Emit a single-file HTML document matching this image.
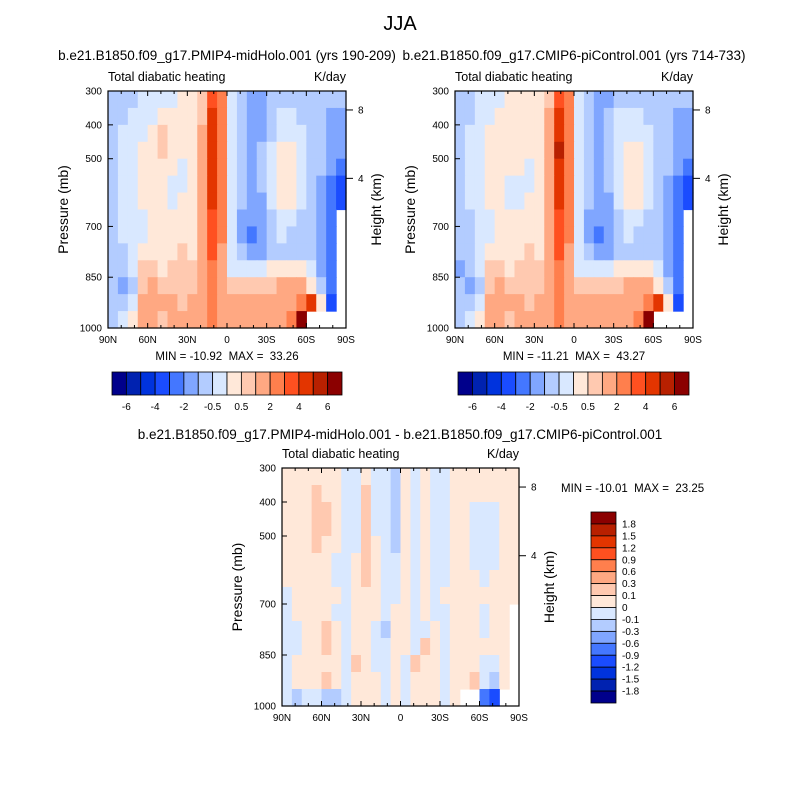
<!DOCTYPE html>
<html><head><meta charset="utf-8">
<style>
body{margin:0;background:#fff;}
svg{display:block;font-family:"Liberation Sans",sans-serif;}
svg text{white-space:pre;}
</style></head>
<body>
<svg id="fig" width="800" height="800" viewBox="0 0 800 800" xmlns="http://www.w3.org/2000/svg">
<text x="400" y="30" font-size="20" text-anchor="middle">JJA</text>
</svg>
<script>
// ---------- data ----------
const latLabels = ["90N","60N","30N","0","30S","60S","90S"];
const presTicks = [300,400,500,700,850,1000];
const heightTicks = ["8","4"];
const heightTickP = [356,558];
const levelsTop = [-6,-5,-4,-3,-2,-1,-0.5,0,0.5,1,2,3,4,5,6];
const levelsDiff = [-1.8,-1.5,-1.2,-0.9,-0.6,-0.3,-0.1,0,0.1,0.3,0.6,0.9,1.2,1.5,1.8];
const topCbLabels = ["-6","-4","-2","-0.5","0.5","2","4","6"];
const diffCbLabels = ["1.8","1.5","1.2","0.9","0.6","0.3","0.1","0","-0.1","-0.3","-0.6","-0.9","-1.2","-1.5","-1.8"];
const colors = ["#00008b","#0022b0","#0033dd","#1a4cff","#4477ff","#80a6ff","#b3ccff","#d9e8ff","#ffe8d9","#ffc9b0","#ffa882","#ff7f4d","#ff5020","#e33500","#b82000","#8b0000"];
const rowP = [325,375,425,475,525,575,625,675,725,775,825,875,925,975];
const N=null;
const fieldA = [
[-0.8,-0.8,-0.8,-0.3,-0.3,-0.3,-0.3,0.3,0.3,0.8,3.5,2.5,-0.3,-0.8,-1.5,-1.5,-0.8,-0.8,-0.8,-0.8,-0.8,-0.8,-0.8,-0.8],
[-0.8,-0.8,-0.3,-0.3,-0.3,0.3,0.3,0.3,0.3,0.8,4.5,2.5,-0.3,-0.8,-1.5,-1.5,-0.8,-0.3,-0.3,-0.8,-0.8,-0.8,-1.5,-1.5],
[-0.8,-0.3,-0.3,-0.3,0.3,0.8,0.3,0.3,0.3,1.5,4.5,2.5,-0.3,-0.8,-1.5,-1.5,-0.8,-0.3,-0.3,-0.3,-0.8,-0.8,-1.5,-1.5],
[-0.8,-0.3,-0.3,0.3,0.3,0.8,0.3,0.3,0.3,1.5,4.5,2.5,-0.3,-0.8,-1.5,-0.8,-0.3,0.3,0.3,-0.3,-0.8,-0.8,-1.5,-1.5],
[-0.8,-0.3,-0.3,0.3,0.3,0.3,0.3,-0.3,0.3,1.5,4.5,2.5,-0.3,-0.8,-1.5,-0.8,-0.3,0.3,0.3,-0.3,-0.8,-0.8,-1.5,-2.5],
[-0.8,-0.3,-0.3,0.3,0.3,0.3,-0.3,-0.3,0.3,1.5,4.5,2.5,-0.3,-0.8,-1.5,-0.8,-0.3,0.3,0.3,-0.3,-0.8,-1.5,-2.5,-3.5],
[-0.8,-0.3,-0.3,0.3,0.3,0.3,-0.3,0.3,0.3,1.5,4.5,2.5,-0.3,-0.8,-1.5,-1.5,-0.3,0.3,0.3,-0.3,-0.8,-1.5,-2.5,-3.5],
[-0.8,-0.3,-0.3,-0.3,0.3,0.3,0.3,0.3,0.3,1.5,3.5,2.5,-0.3,-1.5,-1.5,-1.5,-0.8,-0.3,-0.3,-0.8,-0.8,-1.5,-2.5,N],
[-0.8,-0.3,-0.3,-0.3,0.3,0.3,0.3,0.3,0.3,1.5,3.5,2.5,-0.3,-1.5,-2.5,-1.5,-0.8,-0.3,-0.8,-0.8,-0.8,-1.5,-2.5,N],
[-0.8,-0.8,-0.3,0.3,0.3,0.3,0.3,0.8,0.3,1.5,3.5,1.5,-0.3,-0.8,-1.5,-1.5,-0.8,-0.8,-0.8,-0.8,-0.8,-1.5,-2.5,N],
[-0.8,-0.8,-0.3,0.8,0.8,0.3,0.8,0.8,0.8,1.5,2.5,1.5,-0.3,-0.3,-0.3,-0.3,0.3,0.3,0.3,0.3,-0.3,-1.5,-2.5,N],
[-0.8,-1.5,-0.8,0.8,1.5,0.8,0.8,0.8,0.8,1.5,2.5,1.5,0.8,0.8,0.8,0.8,0.8,1.5,1.5,1.5,0.3,-0.8,-2.5,N],
[-0.8,-0.8,-0.3,1.5,1.5,1.5,1.5,0.8,1.5,1.5,2.5,1.5,1.5,1.5,1.5,1.5,1.5,1.5,1.5,2.5,4.5,0.3,-3.5,N],
[-0.8,-0.3,0.3,1.5,1.5,0.8,1.5,1.5,1.5,1.5,2.5,1.5,1.5,1.5,1.5,1.5,1.5,1.5,2.5,7,N,N,N,N]
];
const fieldB = [
[-0.8,-0.8,-0.3,-0.3,-0.3,0.3,0.3,0.3,0.3,0.8,3.5,2.5,-0.3,-0.8,-1.5,-1.5,-0.8,-0.8,-0.8,-0.8,-0.8,-0.8,-0.8,-0.8],
[-0.8,-0.8,-0.3,-0.3,0.3,0.3,0.3,0.3,0.3,1.5,4.5,2.5,-0.3,-0.8,-1.5,-0.8,-0.3,-0.3,-0.3,-0.8,-0.8,-0.8,-1.5,-1.5],
[-0.8,-0.3,-0.3,0.3,0.3,0.3,0.3,0.3,0.3,1.5,4.5,2.5,-0.3,-0.8,-1.5,-0.8,-0.3,-0.3,-0.3,-0.3,-0.8,-0.8,-1.5,-1.5],
[-0.8,-0.3,-0.3,0.3,0.3,0.3,0.3,0.3,0.3,1.5,5.5,2.5,-0.3,-0.8,-1.5,-0.8,-0.3,0.3,0.3,-0.3,-0.8,-0.8,-1.5,-1.5],
[-0.8,-0.3,-0.3,0.3,0.3,0.3,0.3,-0.3,0.3,1.5,4.5,2.5,-0.3,-0.8,-1.5,-0.8,-0.3,0.3,0.3,-0.3,-0.8,-0.8,-1.5,-2.5],
[-0.8,-0.3,-0.3,0.3,0.3,-0.3,-0.3,-0.3,0.3,1.5,4.5,2.5,-0.3,-0.8,-1.5,-0.8,-0.3,0.3,0.3,-0.3,-0.8,-1.5,-2.5,-3.5],
[-0.8,-0.3,-0.3,0.3,0.3,-0.3,-0.3,0.3,0.3,1.5,4.5,2.5,-0.3,-0.8,-1.5,-1.5,-0.3,0.3,0.3,-0.3,-0.8,-1.5,-2.5,-3.5],
[-0.8,-0.8,-0.3,-0.3,0.3,0.3,0.3,0.3,0.3,1.5,3.5,2.5,-0.3,-1.5,-1.5,-1.5,-0.8,-0.3,-0.3,-0.8,-0.8,-1.5,-2.5,N],
[-0.8,-0.8,-0.3,-0.3,0.3,0.3,0.3,0.3,0.3,1.5,3.5,2.5,-0.3,-1.5,-2.5,-1.5,-0.8,-0.3,-0.8,-0.8,-0.8,-1.5,-2.5,N],
[-0.8,-0.8,-0.3,0.3,0.3,0.3,0.3,0.8,0.3,1.5,3.5,1.5,-0.3,-0.8,-1.5,-1.5,-0.8,-0.8,-0.8,-0.8,-0.8,-1.5,-2.5,N],
[-1.5,-0.8,-0.3,0.8,0.8,0.3,0.8,0.8,0.8,1.5,2.5,1.5,-0.3,-0.3,-0.3,-0.3,0.3,0.3,0.3,0.3,-0.3,-1.5,-2.5,N],
[-0.8,-1.5,-0.8,0.8,1.5,0.8,0.8,0.8,0.8,1.5,2.5,1.5,0.8,0.8,0.8,0.8,0.8,1.5,1.5,1.5,0.3,-0.8,-2.5,N],
[-0.8,-0.8,-0.3,1.5,1.5,1.5,1.5,0.8,1.5,1.5,2.5,1.5,1.5,1.5,1.5,1.5,1.5,1.5,1.5,2.5,4.5,0.3,-3.5,N],
[-0.8,-0.3,0.3,1.5,1.5,0.8,1.5,1.5,1.5,1.5,2.5,1.5,1.5,1.5,1.5,1.5,1.5,1.5,2.5,7,N,N,N,N]
];
const fieldD = [
[.05,.05,.05,.05,.05,.05,-.05,-.05,.05,-.05,-.05,-.2,.05,-.05,.05,-.05,-.05,.05,.05,.05,.05,.05,.05,.05],
[.05,.05,.05,.2,.05,.05,-.05,-.05,.2,-.05,-.05,-.2,.05,-.05,.05,-.05,-.05,.05,.05,.05,.05,.05,.05,.05],
[.05,.05,.05,.2,.2,.05,-.05,-.05,.2,-.05,-.05,-.2,.05,-.05,.05,-.05,-.05,.05,.05,-.05,-.05,-.05,.05,.05],
[.05,.05,.05,.2,.2,.05,-.05,-.05,.2,-.05,-.05,-.2,.05,-.05,.05,-.05,-.05,.05,.05,-.05,-.05,-.05,.05,.05],
[.05,.05,.05,.2,.05,.05,-.05,-.05,.2,.05,-.05,-.2,.05,-.05,.05,-.05,-.05,.05,.05,-.05,-.05,-.05,.05,.05],
[.05,.05,.05,.05,.05,-.05,-.05,.05,.2,.05,-.05,-.05,.05,-.05,.05,-.05,-.05,.05,.05,-.05,-.05,-.05,.05,.05],
[.05,.05,.05,.05,.05,-.05,-.05,.05,.2,.05,-.05,-.05,.05,-.05,.05,-.05,-.05,.05,.05,.05,-.05,.05,.05,.05],
[-.05,.05,.05,.05,.05,.05,-.05,.05,.05,.05,-.05,-.05,.05,-.05,.05,-.05,.05,.05,.05,.05,.05,.05,.05,.05],
[-.05,.05,.05,.05,.05,-.05,-.05,.05,.05,.05,-.05,.05,.05,-.05,.05,-.05,-.05,.05,.05,.05,-.05,.05,.05,N],
[-.05,-.05,.05,.05,.2,.05,-.05,.05,.05,-.05,-.2,.05,.05,-.05,-.05,.05,-.05,.05,.05,.05,-.05,.05,.05,N],
[-.05,-.05,.05,.05,.2,.05,-.05,.05,.05,-.05,-.05,.05,.05,-.05,.2,.05,-.05,.05,.05,.05,.05,.05,.05,N],
[-.05,.05,.05,.05,.05,.05,-.05,.2,.05,-.05,-.05,.05,-.05,.2,.05,.05,-.05,.05,.05,.05,-.05,-.05,.05,N],
[-.05,.05,.05,.05,.2,.05,-.05,.05,.05,.05,-.05,.05,-.05,.05,.05,.05,-.05,.05,.05,.2,-.05,-.2,.05,N],
[-.05,-.2,-.05,-.05,-.2,-.2,-.05,.05,.05,.05,-.05,.05,-.05,.05,.05,.05,-.05,.05,N,N,-.7,-1,N,N]
];
// ---------- drawing ----------
const svg=document.getElementById('fig');
const NS="http://www.w3.org/2000/svg";
function mk(tag,attrs,parent){const e=document.createElementNS(NS,tag);for(const k in attrs)e.setAttribute(k,attrs[k]);(parent||svg).appendChild(e);return e;}
function txt(x,y,s,size,anchor,parent){const t=mk('text',{x:x,y:y,'font-size':size,'text-anchor':anchor||'start'},parent);t.textContent=s;return t;}
function cls(v,levels){let i=0;while(i<levels.length&&v>=levels[i])i++;return i;}

function panel(name,x0,y0,w,h,field,levels){
  const g=mk('g',{});
  
  
  const xs=lat=>x0+(90-lat)/180*w;
  const ys=p=>y0+(p-300)/700*h;
  const nc=field[0].length, nr=field.length;
  for(let r=0;r<nr;r++){for(let c=0;c<nc;c++){
    const v=field[r][c]; if(v===null) continue;
    const latA=90-c*180/nc, latB=90-(c+1)*180/nc;
    const pA=rowP[r]-25, pB=rowP[r]+25;
    const rc=mk('rect',{x:xs(latA),y:ys(pA),width:xs(latB)-xs(latA)+0.6,height:ys(pB)-ys(pA)+0.6,fill:colors[cls(v,levels)]},g);
    
    
  }}
  const fr=mk('rect',{x:x0,y:y0,width:w,height:h,fill:'none',stroke:'#000','stroke-width':1.2},g);
  
  
  for(let lat=90;lat>=-90;lat-=10){
    const x=xs(lat), L=(lat%30===0)?5:3;
    mk('line',{x1:x,y1:y0+h,x2:x,y2:y0+h-L,stroke:'#000','stroke-width':1},g);
    mk('line',{x1:x,y1:y0,x2:x,y2:y0+L,stroke:'#000','stroke-width':1},g);
  }
  latLabels.forEach((s,i)=>{const t=txt(xs(90-i*30),y0+h+15,s,10,'middle',g);
    
    });
  presTicks.forEach(p=>{
    mk('line',{x1:x0,y1:ys(p),x2:x0+5,y2:ys(p),stroke:'#000','stroke-width':1},g);
    const t=txt(x0-6,ys(p)+3.5,String(p),10,'end',g);
    
    
  });
  heightTicks.forEach((s,i)=>{
    const y=ys(heightTickP[i]);
    mk('line',{x1:x0+w,y1:y,x2:x0+w+7,y2:y,stroke:'#000','stroke-width':1},g);
    const t=txt(x0+w+12,y+3.5,s,10,'start',g);
    
    
  });
  const yt=txt(0,0,'Pressure (mb)',14,'middle',g);
  yt.setAttribute('transform',`translate(${x0-40},${y0+h/2}) rotate(-90)`);
  
  
  const ht=txt(0,0,'Height (km)',14,'middle',g);
  ht.setAttribute('transform',`translate(${x0+w+35},${y0+h/2}) rotate(-90)`);
  
  
  const lt=txt(x0,y0-10,'Total diabatic heating',12.5,'start',g);
  
  
  const rt=txt(x0+w,y0-10,'K/day',12.5,'end',g);
  
  
}
function hbar(name,x0,y0,w,h,labels){
  const g=mk('g',{});
  
  
  const bw=w/colors.length;
  colors.forEach((c,i)=>{const r=mk('rect',{x:x0+i*bw,y:y0,width:bw,height:h,fill:c,stroke:'#000','stroke-width':0.8},g);
    
    });
  labels.forEach((s,i)=>{const t=txt(x0+(2*i+1)*bw,y0+h+15,s,10,'middle',g);
    
    });
}
function vbar(name,x0,y0,w,h,labels){
  const g=mk('g',{});
  
  
  const bh=h/colors.length;
  colors.slice().reverse().forEach((c,i)=>{const r=mk('rect',{x:x0,y:y0+i*bh,width:w,height:bh,fill:c,stroke:'#000','stroke-width':0.8},g);
    
    });
  labels.forEach((s,i)=>{const t=txt(x0+w+6,y0+(i+1)*bh+3.5,s,10,'start',g);
    
    });
}
function label(name,x,y,s,size,anchor){const t=txt(x,y,s,size,anchor);
  
  }

label('left-panel-title',227,60,'b.e21.B1850.f09_g17.PMIP4-midHolo.001 (yrs 190-209)',13.5,'middle');
label('right-panel-title',574,60,'b.e21.B1850.f09_g17.CMIP6-piControl.001 (yrs 714-733)',13.5,'middle');
label('diff-panel-title',400,439,'b.e21.B1850.f09_g17.PMIP4-midHolo.001 - b.e21.B1850.f09_g17.CMIP6-piControl.001',13.5,'middle');
panel('left-panel',108,91,238,237,fieldA,levelsTop);
panel('right-panel',455,91,238,237,fieldB,levelsTop);
panel('diff-panel',282,468,237,238,fieldD,levelsDiff);
label('left-minmax',227,360,'MIN = -10.92  MAX =  33.26',11.5,'middle');
label('right-minmax',574,360,'MIN = -11.21  MAX =  43.27',11.5,'middle');
label('diff-minmax',561,492,'MIN = -10.01  MAX =  23.25',11.5,'start');
hbar('left-colorbar',112,372,230,23,topCbLabels);
hbar('right-colorbar',458,372,231,23,topCbLabels);
vbar('diff-colorbar',591,512,25,191,diffCbLabels);
</script>
</body></html>
